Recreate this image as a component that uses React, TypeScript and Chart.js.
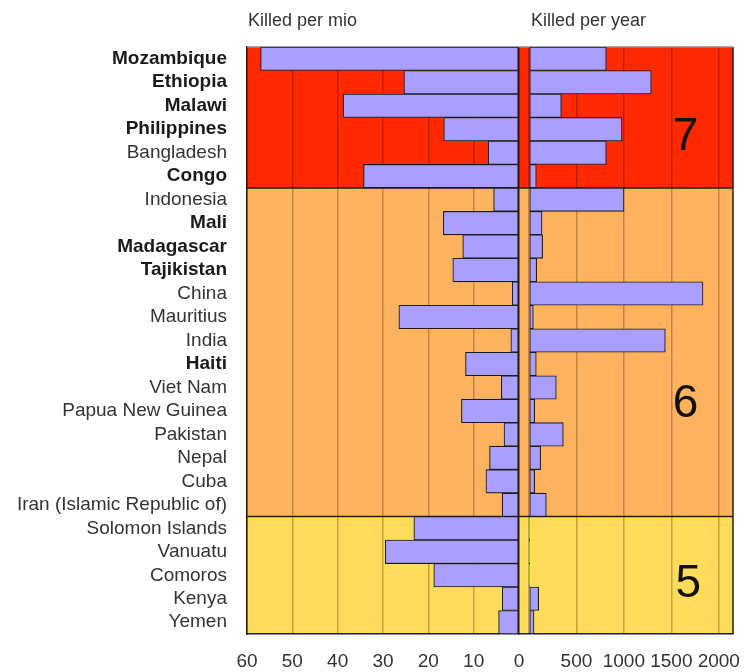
import React, { useEffect, useRef } from 'react';
import { Chart, registerables } from 'chart.js';

Chart.register(...registerables);

// ---------- data ----------
const countries = [
  'Mozambique', 'Ethiopia', 'Malawi', 'Philippines', 'Bangladesh', 'Congo',
  'Indonesia', 'Mali', 'Madagascar', 'Tajikistan', 'China', 'Mauritius', 'India',
  'Haiti', 'Viet Nam', 'Papua New Guinea', 'Pakistan', 'Nepal', 'Cuba',
  'Iran (Islamic Republic of)', 'Solomon Islands', 'Vanuatu', 'Comoros', 'Kenya', 'Yemen',
];
const boldCountries = [
  'Mozambique', 'Ethiopia', 'Malawi', 'Philippines', 'Congo', 'Mali', 'Madagascar', 'Tajikistan', 'Haiti',
];
const riskClass = [7, 7, 7, 7, 7, 7, 6, 6, 6, 6, 6, 6, 6, 6, 6, 6, 6, 6, 6, 6, 5, 5, 5, 5, 5];
const killedPerMio = [
  57, 25.4, 38.8, 16.6, 6.8, 34.3, 5.6, 16.7, 12.4, 14.6, 1.5, 26.5, 1.8, 11.8, 3.9, 12.7,
  3.3, 6.5, 7.3, 3.7, 23.2, 29.5, 18.8, 3.7, 4.5,
];
const killedPerYear = [
  815, 1289, 341, 980, 815, 77, 1001, 137, 144, 81, 1834, 46, 1437, 77, 288, 60,
  362, 123, 60, 183, 4, 3, 6, 102, 53,
];
const perMioTicks = [60, 50, 40, 30, 20, 10, 0];
const perYearTicks = [0, 500, 1000, 1500, 2000];
const titleLeft = 'Killed per mio';
const titleRight = 'Killed per year';

// ---------- styles ----------
const FONT = '"Liberation Sans", Arial, Helvetica, sans-serif';
const bandColors: Record<number, string> = { 7: '#FF2A00', 6: '#FFB35E', 5: '#FFDC5A' };
const classLabelAnchor: Record<number, { row: number; value: number }> = {
  7: { row: 3.9, value: 1650 },
  6: { row: 15.26, value: 1650 },
  5: { row: 22.92, value: 1680 },
};
const GRID = 'rgba(0,0,0,0.25)';
const DARK = '#1c1c1c';

const bandsPlugin = {
  id: 'bands',
  beforeDraw(chart: any) {
    const { ctx, chartArea, scales } = chart;
    const y = scales.y;
    ctx.save();
    let start = 0;
    for (let i = 1; i <= riskClass.length; i++) {
      if (i === riskClass.length || riskClass[i] !== riskClass[start]) {
        const top = y.getPixelForValue(start - 0.5);
        const bottom = y.getPixelForValue(i - 0.5);
        ctx.fillStyle = bandColors[riskClass[start]];
        ctx.fillRect(chartArea.left, top, chartArea.right - chartArea.left, bottom - top);
        start = i;
      }
    }
    ctx.restore();
  },
  beforeDatasetsDraw(chart: any) {
    const { ctx, chartArea, scales } = chart;
    const y = scales.y;
    ctx.save();
    ctx.strokeStyle = DARK;
    ctx.lineWidth = 1.5;
    for (let i = 1; i < riskClass.length; i++) {
      if (riskClass[i] !== riskClass[i - 1]) {
        const py = y.getPixelForValue(i - 0.5);
        ctx.beginPath();
        ctx.moveTo(chartArea.left, py);
        ctx.lineTo(chartArea.right, py);
        ctx.stroke();
      }
    }
    // right border
    ctx.beginPath();
    ctx.moveTo(chartArea.right, chartArea.top);
    ctx.lineTo(chartArea.right, chartArea.bottom);
    ctx.stroke();
    // top border
    ctx.strokeStyle = '#8a8a8a';
    ctx.beginPath();
    ctx.moveTo(chartArea.left, chartArea.top);
    ctx.lineTo(chartArea.right, chartArea.top);
    ctx.stroke();
    ctx.restore();
  },
  afterDatasetsDraw(chart: any) {
    const { ctx, scales } = chart;
    const y = scales.y;
    const xR = scales.xR;
    ctx.save();
    ctx.fillStyle = '#111';
    ctx.font = `46px ${FONT}`;
    ctx.textAlign = 'center';
    ctx.textBaseline = 'alphabetic';
    const classes = Array.from(new Set(riskClass));
    classes.forEach((c) => {
      const a = classLabelAnchor[c];
      ctx.fillText(String(c), xR.getPixelForValue(a.value), y.getPixelForValue(a.row));
    });
    ctx.restore();
  },
  afterDraw(chart: any) {
    const { ctx, chartArea, scales } = chart;
    ctx.save();
    ctx.fillStyle = '#333';
    ctx.font = `18px ${FONT}`;
    ctx.textAlign = 'left';
    ctx.textBaseline = 'alphabetic';
    ctx.fillText(titleLeft, scales.xL.left + 1, chartArea.top - 21);
    ctx.fillText(titleRight, scales.xR.getPixelForValue(0) + 2, chartArea.top - 21);
    ctx.restore();
  },
};

const fitXAxis = (s: any) => {
  s.height = 38;
  s.paddingLeft = 0;
  s.paddingRight = 0;
};

export default function App() {
  const ref = useRef<HTMLCanvasElement | null>(null);

  useEffect(() => {
    if (!ref.current) return;
    const barStyle = {
      backgroundColor: '#A89FFE',
      borderColor: DARK,
      borderWidth: 1.1,
      borderSkipped: false as const,
      barPercentage: 1,
      categoryPercentage: 1,
      grouped: false,
    };
    const chart = new Chart(ref.current, {
      type: 'bar',
      data: {
        labels: countries,
        datasets: [
          { label: titleLeft, data: killedPerMio, xAxisID: 'xL', yAxisID: 'y', ...barStyle },
          { label: titleRight, data: killedPerYear, xAxisID: 'xR', yAxisID: 'y', ...barStyle },
        ],
      },
      options: {
        indexAxis: 'y',
        responsive: false,
        animation: false,
        layout: { padding: { top: 47, right: 23, left: 0, bottom: 0 } },
        plugins: { legend: { display: false }, tooltip: { enabled: false } },
        scales: {
          y: {
            type: 'category',
            position: 'left',
            grid: { display: false, drawTicks: false },
            border: { display: true, color: DARK, width: 1.5 },
            afterFit: (s: any) => {
              s.width = 247;
            },
            ticks: {
              padding: 20,
              autoSkip: false,
              color: (ctx: any) => (boldCountries.includes(countries[ctx.index]) ? '#1a1a1a' : '#333'),
              font: (ctx: any) => ({
                family: FONT,
                size: 19,
                weight: boldCountries.includes(countries[ctx.index]) ? 'bold' : 'normal',
              }),
            },
          },
          xL: {
            type: 'linear',
            position: 'bottom',
            stack: 'x',
            stackWeight: 272,
            reverse: true,
            min: 0,
            max: 60,
            afterBuildTicks: (s: any) => {
              s.ticks = perMioTicks.map((v) => ({ value: v }));
            },
            afterFit: fitXAxis,
            grid: {
              drawTicks: false,
              lineWidth: 1.5,
              color: (ctx: any) => (ctx.tick && ctx.tick.value === 0 ? DARK : GRID),
            },
            border: { display: true, color: DARK, width: 1.5 },
            ticks: {
              padding: 16,
              autoSkip: false,
              color: '#333',
              font: { family: FONT, size: 19 },
              maxRotation: 0,
            },
          },
          xR: {
            type: 'linear',
            position: 'bottom',
            stack: 'x',
            stackWeight: 214,
            min: -105,
            max: 2150,
            afterBuildTicks: (s: any) => {
              s.ticks = perYearTicks.map((v) => ({ value: v }));
            },
            afterFit: fitXAxis,
            grid: { drawTicks: false, lineWidth: 1.5, color: GRID },
            border: { display: true, color: DARK, width: 1.5 },
            ticks: {
              padding: 16,
              autoSkip: false,
              color: '#333',
              font: { family: FONT, size: 19 },
              maxRotation: 0,
              callback: (v: any) => (v === 0 ? '' : String(v)),
            },
          },
        },
      },
      plugins: [bandsPlugin],
    } as any);
    return () => chart.destroy();
  }, []);

  return (
    <div style={{ position: 'absolute', left: 0, top: 0, width: 756, height: 672, background: '#fff' }}>
      <canvas ref={ref} width={756} height={672} style={{ display: 'block' }} />
    </div>
  );
}
